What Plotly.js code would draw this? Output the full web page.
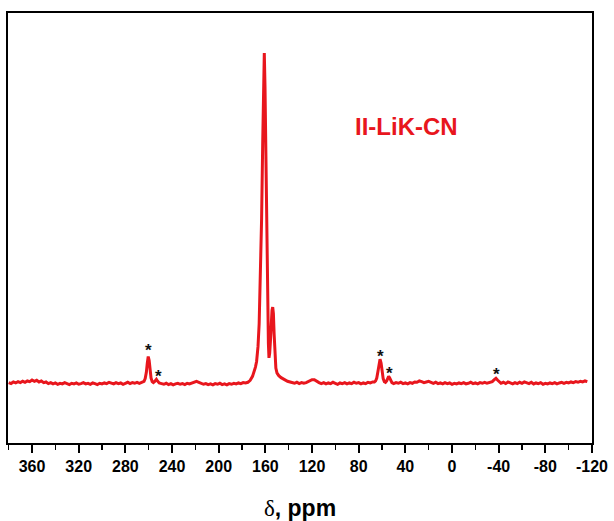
<!DOCTYPE html>
<html>
<head>
<meta charset="utf-8">
<script src="https://cdn.plot.ly/plotly-3.0.1.min.js"></script>
<style>html,body{margin:0;padding:0;background:#fff;}#chart{width:614px;height:521px;}</style>
</head>
<body>
<div id="chart"></div>
<script>
// Chemical shift (ppm) and relative intensity
const shiftPpm = [
  // baseline 380 -> 268
  380,378,376,374,372,370,368,366,364,362,360,358,356,354,352,350,348,346,344,342,340,
  338,336,334,332,330,328,326,324,322,320,318,316,314,312,310,308,306,304,302,300,
  298,296,294,292,290,288,286,284,282,280,278,276,274,272,270,268,
  // spinning sideband ~260
  266,264,263,262,261.2,260.4,259.6,258.8,258,257,256,255,254,253.4,252.5,251,249,
  // baseline 247 -> 177
  247,245,243,241,239,237,235,233,231,229,227,225,223,221,219,217,215,213,211,209,
  207,205,203,201,199,197,195,193,191,189,187,185,183,181,179,177,
  // main resonances ~161 and ~154
  175,173,171,169.5,168.5,167.5,166.3,165.3,164.2,163.2,162.3,161.5,160.9,160.3,159.6,
  158.9,158.1,157.4,156.9,156.3,155.6,154.9,154.3,153.7,153.1,152.5,151.8,151,150,148.5,
  146.5,144,141,138,
  // baseline 135 -> 68
  135,133,131,129,127,125,122,120,118,116,114,112,110,108,106,104,102,100,98,96,94,92,
  90,88,86,84,82,80,78,76,74,72,70,68,
  // spinning sideband ~62
  66.5,65.5,64.5,63.5,62.6,61.7,60.8,60,59,58,57,56,55,54.3,53.5,52.5,51.5,
  // baseline 50 -> -32
  50,48,46,44,42,40,38,36,34,32,30,28,26,24,22,20,18,16,14,12,10,8,6,4,2,0,
  -2,-4,-6,-8,-10,-12,-14,-16,-18,-20,-22,-24,-26,-28,-30,-32,
  // spinning sideband ~-38
  -34.5,-36,-37.7,-39,-40.5,
  // baseline -42 -> -116
  -42,-44,-46,-48,-50,-52,-54,-56,-58,-60,-62,-64,-66,-68,-70,-72,-74,-76,-78,-80,
  -82,-84,-86,-88,-90,-92,-94,-96,-98,-100,-102,-104,-106,-108,-110,-112,-114,-116
];
const intensity = [
  0.1,-0.2,0.3,0.0,0.4,0.1,0.5,0.2,0.6,0.4,0.9,0.5,0.8,0.3,0.6,0.1,0.3,-0.2,0.1,-0.3,0.0,
  -0.4,-0.1,-0.3,0.1,-0.2,-0.5,-0.1,-0.3,0.0,-0.4,-0.2,0.1,-0.3,-0.1,-0.4,0.0,-0.2,-0.5,-0.1,-0.3,
  0.0,-0.2,0.2,-0.1,-0.3,0.1,-0.2,0.0,-0.4,-0.1,0.2,-0.2,0.1,-0.1,0.2,-0.1,
  0.1,0.5,1.3,3.2,6.0,8.0,6.8,3.5,1.5,0.4,0.1,0.4,0.9,1.1,0.6,0.0,-0.2,
  -0.4,-0.1,-0.5,-0.2,-0.6,-0.3,-0.1,-0.4,-0.2,-0.5,-0.1,-0.3,0.0,0.2,0.5,0.2,-0.1,-0.4,-0.2,-0.5,
  -0.3,-0.6,-0.2,-0.4,-0.1,-0.5,-0.3,-0.6,-0.2,-0.4,-0.1,-0.3,0.0,-0.2,0.1,0.0,
  0.2,0.8,2.0,3.6,4.8,6.5,11,18,31,50,72,90,100,90,68,
  45,24,12,7.6,9,13,19,22,23,21,15,8,4.5,3,2.2,
  1.6,1.0,0.5,0.2,
  -0.1,0.2,-0.2,0.1,-0.1,0.1,0.6,1.0,1.0,0.5,0.1,-0.2,0.1,-0.3,0.0,-0.2,0.2,-0.1,-0.4,0.0,-0.2,0.1,
  -0.3,0.0,-0.2,0.2,-0.1,0.1,-0.3,0.0,-0.2,0.2,0.0,0.3,
  0.3,0.6,1.5,3.5,6.0,7.2,6.0,3.5,1.3,0.4,0.2,0.6,1.5,2.0,1.6,0.7,0.1,
  -0.2,0.1,-0.1,0.2,-0.2,0.0,-0.3,0.1,-0.1,0.3,0.2,0.6,0.4,0.1,0.3,0.5,0.2,-0.1,0.2,-0.2,0.0,-0.3,0.1,-0.2,0.0,-0.4,
  -0.1,-0.3,0.0,-0.2,0.1,-0.3,-0.1,0.2,-0.2,0.0,-0.3,0.1,-0.1,0.2,-0.1,0.1,
  0.4,0.9,1.4,0.9,0.3,
  -0.1,0.2,-0.2,0.3,0.0,-0.3,0.1,-0.2,0.2,-0.1,0.3,0.0,-0.2,0.2,-0.3,0.0,-0.2,0.1,-0.4,-0.1,
  -0.3,0.0,-0.2,0.1,-0.3,0.0,0.2,-0.1,0.2,0.0,0.3,0.1,0.4,0.2,0.5,0.3,0.6,0.4
];
// Sideband markers (*) and sample label
const starPpm = [260.3, 251.7, 61.7, 53.7, -38.3];
const starLevel = [11.2, 3.6, 9.5, 4.5, 4.2];
const sampleLabel = 'II-LiK-CN';
const tickValues = [360,320,280,240,200,160,120,80,40,0,-40,-80,-120];
const tickLabels = ['360','320','280','240','200','160','120','80','40','0','-40','-80','-120'];

const red = '#e8161d';
const trace = {
  x: shiftPpm, y: intensity, type: 'scatter', mode: 'lines',
  line: {color: red, width: 3}, hoverinfo: 'x+y', showlegend: false
};

const annotations = starPpm.map((p, i) => ({
  x: p, y: starLevel[i], xref: 'x', yref: 'y', text: '*', showarrow: false,
  font: {family: 'Liberation Sans, Arial, sans-serif', size: 17, color: '#111', weight: 'bold'},
  yshift: -5
}));
annotations.push({
  x: 38.8, y: 77.6, xref: 'x', yref: 'y', text: sampleLabel, showarrow: false,
  font: {family: 'Liberation Sans, Arial, sans-serif', size: 24, color: red, weight: 'bold'}
});

const layout = {
  width: 614, height: 521,
  margin: {l: 8, r: 22, t: 13, b: 78},
  paper_bgcolor: '#fff', plot_bgcolor: '#fff',
  showlegend: false,
  xaxis: {
    range: [380.6, -120], showgrid: false, zeroline: false,
    showline: true, linecolor: '#000', linewidth: 2, mirror: true,
    ticks: 'outside', ticklen: 8, tickwidth: 2, tickcolor: '#000',
    tickmode: 'array', tickvals: tickValues, ticktext: tickLabels,
    minor: {dtick: 20, tick0: 0, ticks: 'outside', ticklen: 5, tickwidth: 1.5, tickcolor: '#000', showgrid: false},
    tickfont: {family: 'Liberation Sans, Arial, sans-serif', size: 16, color: '#000', weight: 'bold'},
    title: {
      text: '<span style="font-family:\'Liberation Serif\',serif;font-weight:normal">δ</span>, ppm',
      font: {family: 'Liberation Sans, Arial, sans-serif', size: 23, color: '#000', weight: 'bold'},
      standoff: 26
    }
  },
  yaxis: {
    range: [-18.2, 112.1], showgrid: false, zeroline: false,
    showline: true, linecolor: '#000', linewidth: 2, mirror: true,
    ticks: '', showticklabels: false
  },
  annotations: annotations
};

Plotly.newPlot('chart', [trace], layout, {displayModeBar: false, staticPlot: true});
</script>
</body>
</html>
